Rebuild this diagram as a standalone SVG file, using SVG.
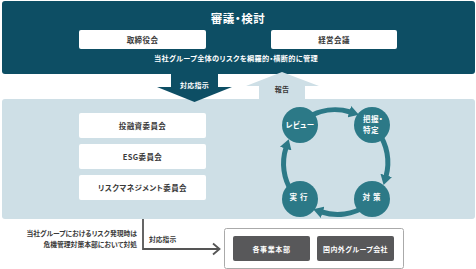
<svg xmlns="http://www.w3.org/2000/svg" width="476" height="269" viewBox="0 0 476 269">
<style>
text{font-family:"Noto Sans CJK JP","Noto Sans",sans-serif;font-weight:bold;text-anchor:middle;font-feature-settings:"palt";}
.w{fill:#ffffff;}
.d{fill:#3a3a3a;}
.wb{fill:#ffffff;}
.cyc{fill:#2c7987;}
.arc{fill:none;stroke:#2c7987;stroke-width:5;marker-end:url(#ah);}
.gb{fill:#58585a;}
</style>
<defs>
<marker id="ah" markerUnits="userSpaceOnUse" viewBox="0 0 10 12" markerWidth="10" markerHeight="12" refX="1" refY="6" orient="auto">
<path d="M0,0 L10,6 L0,12 z" fill="#2c7987"/>
</marker>
</defs>
<rect width="476" height="269" fill="#ffffff"/>

<g id="top-panel">
<rect x="2" y="1" width="473" height="73" rx="3" fill="#0d4e64"/>
<text x="238" y="22.5" class="w" font-size="11.5" letter-spacing="0.6">審議・検討</text>
</g>
<g id="node-board">
<rect x="79" y="30" width="127" height="19" rx="2" class="wb"/>
<text x="142.5" y="42.5" class="d" font-size="7.5" letter-spacing="0.4">取締役会</text>
</g>
<g id="node-mgmt">
<rect x="271" y="30" width="126" height="19" rx="2" class="wb"/>
<text x="334" y="42.5" class="d" font-size="7.5" letter-spacing="0.4">経営会議</text>
</g>
<text x="236" y="61" class="w" font-size="7.2" letter-spacing="0.3">当社グループ全体のリスクを網羅的・横断的に管理</text>

<g id="bottom-panel">
<rect x="2" y="99" width="473" height="120" rx="3" fill="#cedfe6"/>
</g>

<g id="connectors">
<path d="M171,74 H218 V87 H232 L194.5,102 L157,87 H171 Z" fill="#0d4e64"/>
<path d="M259,99 V86 H246 L282,72 L319,86 H305 V99 Z" fill="#cedfe6"/>
<path d="M143,219 V249 H219" fill="none" stroke="#555" stroke-width="1.8"/>
<path d="M213,243.5 L219.5,249 L213,254.5" fill="none" stroke="#555" stroke-width="1.8"/>
<path class="arc" d="M307,118 A52,52 0 0 1 350.3,112"/>
<path class="arc" d="M378,132 A52,52 0 0 1 386,176.3"/>
<path class="arc" d="M366,206 A52,52 0 0 1 321.7,212"/>
<path class="arc" d="M292,192 A52,52 0 0 1 286,147.7"/>
</g>
<text x="194.5" y="88" class="w" font-size="7" letter-spacing="0.3">対応指示</text>
<text x="282" y="91.5" class="d" font-size="7" letter-spacing="0.3">報告</text>

<g id="node-invest">
<rect x="79" y="113" width="127" height="25" rx="2" class="wb"/>
<text x="142.5" y="128.5" class="d" font-size="7.5" letter-spacing="0.4">投融資委員会</text>
</g>
<g id="node-esg">
<rect x="79" y="144" width="127" height="25" rx="2" class="wb"/>
<text x="142.5" y="159.5" class="d" font-size="7.5" letter-spacing="0.4">ESG委員会</text>
</g>
<g id="node-risk">
<rect x="79" y="175" width="127" height="25" rx="2" class="wb"/>
<text x="142.5" y="190.5" class="d" font-size="7.5" letter-spacing="0.4">リスクマネジメント委員会</text>
</g>

<g id="node-review">
<circle cx="300" cy="125" r="18" class="cyc"/>
<text x="300" y="128" class="w" font-size="7.5" letter-spacing="0.4">レビュー</text>
</g>
<g id="node-identify">
<circle cx="372" cy="125" r="18" class="cyc"/>
<text x="373" y="122" class="w" font-size="7.5" letter-spacing="0.4">把握・</text>
<text x="371" y="133" class="w" font-size="7.5" letter-spacing="0.4">特定</text>
</g>
<g id="node-execute">
<circle cx="300" cy="199" r="18" class="cyc"/>
<text x="300" y="199.5" class="w" font-size="7.5" letter-spacing="3">実行</text>
</g>
<g id="node-measure">
<circle cx="372" cy="199" r="18" class="cyc"/>
<text x="373" y="199.5" class="w" font-size="7.5" letter-spacing="3">対策</text>
</g>

<text x="137" y="236" class="d" font-size="6.8" style="text-anchor:end">当社グループにおけるリスク発現時は</text>
<text x="137" y="247" class="d" font-size="6.8" style="text-anchor:end">危機管理対策本部において対処</text>
<text x="149" y="242" class="d" font-size="6.8" style="text-anchor:start">対応指示</text>

<g id="group-targets">
<rect x="224.5" y="228.5" width="179" height="40" rx="2" fill="#ffffff" stroke="#aaaaaa" stroke-width="1"/>
</g>
<g id="node-division">
<rect x="233" y="236" width="77" height="25" rx="2" class="gb"/>
<text x="271.5" y="251.5" class="w" font-size="7" letter-spacing="0.6">各事業本部</text>
</g>
<g id="node-groupco">
<rect x="317" y="236" width="77" height="25" rx="2" class="gb"/>
<text x="355.5" y="251.5" class="w" font-size="7" letter-spacing="0.4">国内外グループ会社</text>
</g>
</svg>
